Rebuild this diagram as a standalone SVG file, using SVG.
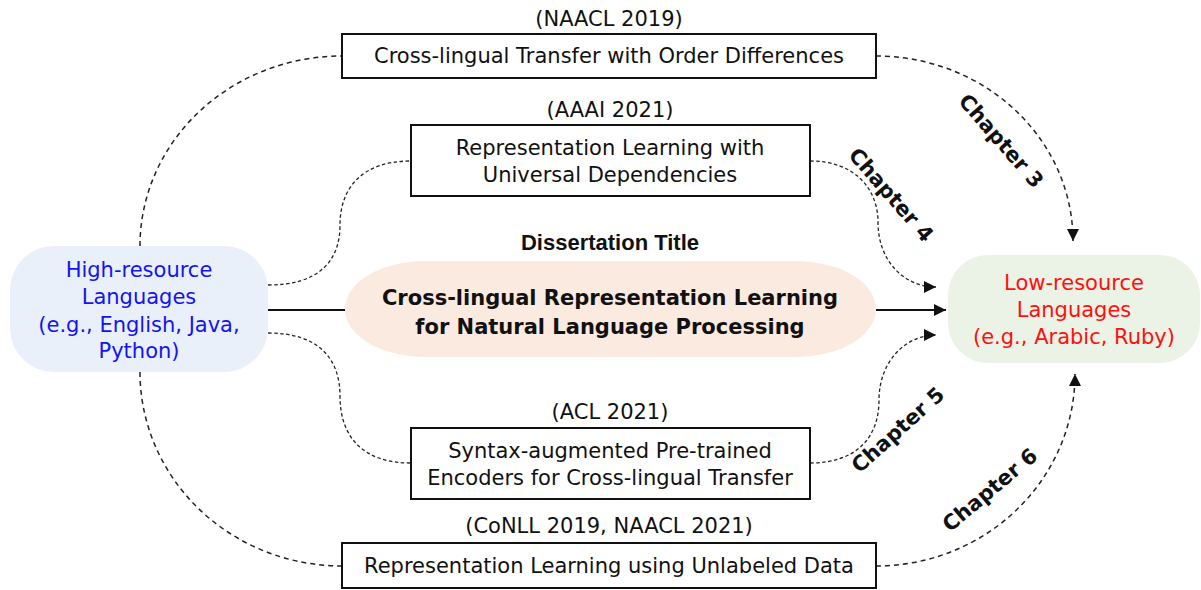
<svg xmlns="http://www.w3.org/2000/svg" width="1201" height="590" viewBox="0 0 1201 590">
  <style>
    .hand { font-family: "DejaVu Sans", "Open Sans", sans-serif; font-size: 21px; fill: #111; text-anchor: middle; }
    .box { fill: #fff; stroke: #111; stroke-width: 2; }
    .dash { fill: none; stroke: #222; stroke-width: 1.5; stroke-dasharray: 5 4; }
    .fine { fill: none; stroke: #222; stroke-width: 1.3; stroke-dasharray: 3.5 2.5; }
    .solid { fill: none; stroke: #111; stroke-width: 2; }
    .chap { font-family: "DejaVu Sans", sans-serif; font-size: 21px; font-weight: bold; fill: #111; text-anchor: middle; }
  </style>
  <defs>
    <marker id="arrowL" viewBox="0 0 10 10" refX="10" refY="5" markerWidth="13" markerHeight="12" markerUnits="userSpaceOnUse" orient="auto">
      <path d="M0,0 L10,5 L0,10 Z" fill="#111"/>
    </marker>
  </defs>

  <rect width="1201" height="590" fill="#fff"/>

  <!-- connectors -->
  <g id="connectors">
    <path class="dash" d="M140,246 A202,190 0 0 1 342,56"/>
    <path class="dash" d="M140,372 A202,194 0 0 0 342,566"/>
    <path class="dash" d="M876,56 A197,185 0 0 1 1073,241" marker-end="url(#arrowL)"/>
    <path class="dash" d="M876,566 A199,192 0 0 0 1075,374" marker-end="url(#arrowL)"/>
    <path class="fine" d="M268,285 C318,285 340,262 340,225 C340,188 362,161 411,161"/>
    <path class="fine" d="M268,333 C318,333 340,358 340,396 C340,436 362,463 411,463"/>
    <path class="fine" d="M810,161 C856,161 878,190 878,222 C878,262 905,287 936,287" marker-end="url(#arrowL)"/>
    <path class="fine" d="M810,463 C856,463 879,438 879,400 C879,362 905,335 936,335" marker-end="url(#arrowL)"/>
    <line class="solid" x1="268" y1="310" x2="345" y2="310"/>
    <line class="solid" x1="876" y1="310" x2="946" y2="310" marker-end="url(#arrowL)"/>
  </g>

  <!-- chapter labels -->
  <g id="chapter-labels">
    <text class="chap" transform="translate(1001,141) rotate(49)" dy="7">Chapter 3</text>
    <text class="chap" transform="translate(891,195) rotate(49)" dy="7">Chapter 4</text>
    <text class="chap" transform="translate(898,430) rotate(-42)" dy="7">Chapter 5</text>
    <text class="chap" transform="translate(990,490) rotate(-40)" dy="7">Chapter 6</text>
  </g>

  <!-- source languages -->
  <g id="high-resource">
    <rect x="10" y="246" width="258" height="126" rx="44" ry="44" fill="#e9f0fa"/>
    <text class="hand" style="fill:#1414f0" x="139" y="277">High-resource</text>
    <text class="hand" style="fill:#1414f0" x="139" y="304">Languages</text>
    <text class="hand" style="fill:#1414f0" x="139" y="332">(e.g., English, Java,</text>
    <text class="hand" style="fill:#1414f0" x="139" y="358">Python)</text>
  </g>

  <!-- target languages -->
  <g id="low-resource">
    <rect x="948" y="255" width="252" height="108" rx="40" ry="40" fill="#ebf3e6"/>
    <text class="hand" style="fill:#ff0f0f" x="1074" y="290">Low-resource</text>
    <text class="hand" style="fill:#ff0f0f" x="1074" y="317">Languages</text>
    <text class="hand" style="fill:#ff0f0f" x="1074" y="344">(e.g., Arabic, Ruby)</text>
  </g>

  <!-- dissertation title -->
  <g id="title">
    <text x="610" y="250" font-family="Liberation Sans, Arial, sans-serif" font-size="22" font-weight="bold" fill="#111" text-anchor="middle">Dissertation Title</text>
    <rect x="345" y="261" width="531" height="96" rx="80" ry="48" fill="#fbeadf"/>
    <text class="hand" style="font-size:21px;font-weight:bold" x="610" y="305">Cross-lingual Representation Learning</text>
    <text class="hand" style="font-size:21px;font-weight:bold" x="610" y="334">for Natural Language Processing</text>
  </g>

  <!-- chapter 3 -->
  <g id="order-differences">
    <text class="hand" x="609" y="26">(NAACL 2019)</text>
    <rect class="box" x="342" y="34" width="534" height="44"/>
    <text class="hand" x="609" y="63">Cross-lingual Transfer with Order Differences</text>
  </g>

  <!-- chapter 4 -->
  <g id="universal-dependencies">
    <text class="hand" x="610" y="117">(AAAI 2021)</text>
    <rect class="box" x="411" y="125" width="399" height="71"/>
    <text class="hand" x="610" y="155">Representation Learning with</text>
    <text class="hand" x="610" y="182">Universal Dependencies</text>
  </g>

  <!-- chapter 5 -->
  <g id="syntax-encoders">
    <text class="hand" x="610" y="419">(ACL 2021)</text>
    <rect class="box" x="411" y="428" width="399" height="71"/>
    <text class="hand" x="610" y="458">Syntax-augmented Pre-trained</text>
    <text class="hand" x="610" y="485">Encoders for Cross-lingual Transfer</text>
  </g>

  <!-- chapter 6 -->
  <g id="unlabeled-data">
    <text class="hand" x="609" y="533">(CoNLL 2019, NAACL 2021)</text>
    <rect class="box" x="342" y="543" width="534" height="45"/>
    <text class="hand" x="609" y="573">Representation Learning using Unlabeled Data</text>
  </g>
</svg>
